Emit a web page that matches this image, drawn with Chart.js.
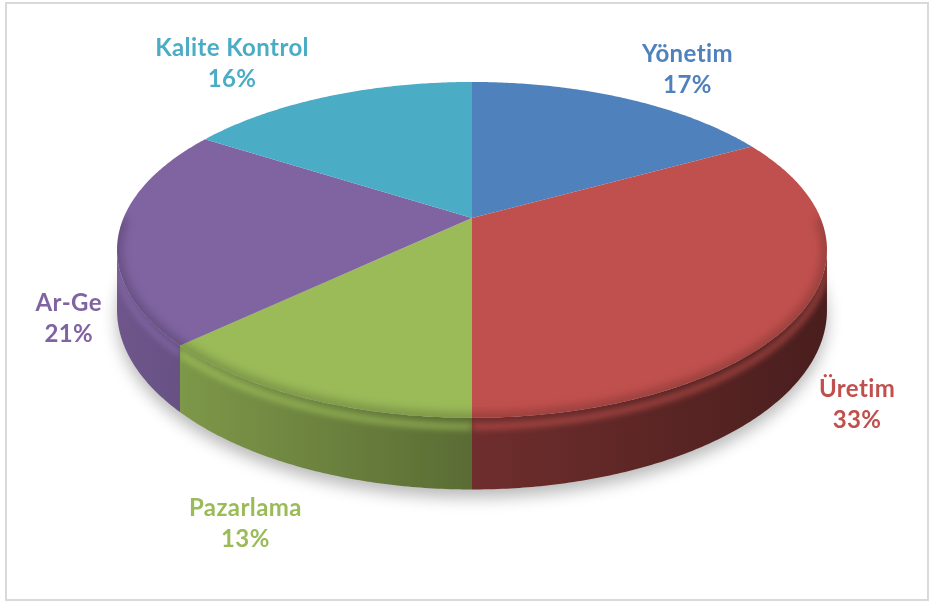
<!DOCTYPE html>
<html>
<head>
<meta charset="utf-8">
<script src="https://cdn.jsdelivr.net/npm/chart.js@4.4.1/dist/chart.umd.min.js"></script>
<style>
  html, body { margin: 0; padding: 0; background: #fff; }
  #wrap { position: relative; width: 932px; height: 603px; }
</style>
</head>
<body>
<div id="wrap"><canvas id="chart-pie" width="932" height="603"></canvas></div>
<script>
// data
const departments = ["Yönetim", "Üretim", "Pazarlama", "Ar-Ge", "Kalite Kontrol"];
const shares = [17, 33, 13, 21, 16];
const sliceColors = ["#4F81BD", "#C0504D", "#9BBB59", "#8064A2", "#4BACC6"];

// layout of the fake 3d disc
const cx = 472, cy = 218;      // apex of the slices
const A = 348.5, B = 161.9;    // horizontal / vertical radius
const g = 0.19;                // perspective
const depth = 58;
// label nudges from the rim point at the middle of each slice
const labelShift = [[63, -36], [53, 88], [-59, 118], [-50, 77], [-96, -40]];

const proj = (theta, dz) => {
  const u = Math.cos(theta), w = -Math.sin(theta);
  const den = 1 + g * w;
  return [cx + A * u / den, cy - B * w / den + (dz || 0) / den];
};

const shade = (hex, f) => {
  const n = parseInt(hex.slice(1), 16);
  const r = Math.min(255, Math.round(((n >> 16) & 255) * f)),
        gg = Math.min(255, Math.round(((n >> 8) & 255) * f)),
        b = Math.min(255, Math.round((n & 255) * f));
  return "rgb(" + r + "," + gg + "," + b + ")";
};

const rimPath = (ctx, a, b, dz, first) => {
  const steps = Math.max(2, Math.ceil(Math.abs(b - a) / 0.01));
  for (let i = 0; i <= steps; i++) {
    const p = proj(a + (b - a) * i / steps, dz);
    if (i == 0 && first) ctx.moveTo(p[0], p[1]); else ctx.lineTo(p[0], p[1]);
  }
};

const pie3d = {
  id: "pie3d",
  beforeDatasetsDraw(chart) {
    const ctx = chart.ctx;
    const arcs = chart.getDatasetMeta(0).data;
    const sideFrom = Math.asin(g), sideTo = Math.PI - Math.asin(g);

    // soft shadow below
    ctx.save();
    ctx.shadowColor = "rgba(0,0,0,0.28)";
    ctx.shadowBlur = 16;
    ctx.shadowOffsetY = 2000 + 8;
    ctx.translate(0, -2000);
    ctx.beginPath();
    rimPath(ctx, sideFrom - 0.3, sideTo + 0.3, depth, true);
    ctx.closePath();
    ctx.fillStyle = "#000";
    ctx.fill();
    ctx.restore();

    // sides
    arcs.forEach((arc, i) => {
      let a = Math.max(arc.startAngle, sideFrom), b = Math.min(arc.endAngle, sideTo);
      if (b <= a) return;
      const grad = ctx.createLinearGradient(cx - A * 1.02, 0, cx + A * 1.02, 0);
      grad.addColorStop(0, shade(sliceColors[i], 0.86));
      grad.addColorStop(0.5, shade(sliceColors[i], 0.58));
      grad.addColorStop(1, shade(sliceColors[i], 0.38));
      ctx.beginPath();
      rimPath(ctx, a, b, 0, true);
      rimPath(ctx, b, a, depth, false);
      ctx.closePath();
      ctx.fillStyle = grad;
      ctx.fill();

      // bevel highlight on the upper edge
      ctx.save();
      ctx.beginPath();
      rimPath(ctx, a, b, 0, true);
      rimPath(ctx, b, a, depth, false);
      ctx.closePath();
      ctx.clip();
      ctx.beginPath();
      rimPath(ctx, a, b, 7, true);
      ctx.strokeStyle = shade(sliceColors[i], 1.15);
      ctx.globalAlpha = 0.55;
      ctx.lineWidth = 6;
      ctx.filter = "blur(3px)";
      ctx.stroke();
      ctx.restore();
    });

    // top face
    arcs.forEach((arc, i) => {
      ctx.beginPath();
      ctx.moveTo(cx, cy);
      rimPath(ctx, arc.startAngle, arc.endAngle, 0, false);
      ctx.closePath();
      ctx.fillStyle = sliceColors[i];
      ctx.fill();
    });

    // inner darkening near the front rim
    ctx.save();
    ctx.beginPath();
    ctx.moveTo(cx, cy);
    rimPath(ctx, -Math.PI / 2, Math.PI * 1.5, 0, false);
    ctx.closePath();
    ctx.clip();
    ctx.beginPath();
    rimPath(ctx, 0, Math.PI, 0, true);
    ctx.strokeStyle = "rgba(0,0,0,0.22)";
    ctx.lineWidth = 10;
    ctx.filter = "blur(5px)";
    ctx.stroke();
    ctx.restore();

    // labels
    const total = shares.reduce((s, v) => s + v, 0);
    ctx.save();
    ctx.textAlign = "center";
    ctx.textBaseline = "alphabetic";
    ctx.font = "bold 24px Lato";
    ctx.letterSpacing = "0.4px";
    arcs.forEach((arc, i) => {
      const p = proj((arc.startAngle + arc.endAngle) / 2, 0);
      const x = p[0] + labelShift[i][0], y = p[1] + labelShift[i][1];
      ctx.fillStyle = sliceColors[i];
      ctx.fillText(departments[i], x, y);
      ctx.fillText(Math.round(shares[i] / total * 100) + "%", x, y + 31);
    });
    ctx.restore();
    return false;
  },
  afterDraw(chart) {
    const ctx = chart.ctx;
    ctx.save();
    ctx.strokeStyle = "#D9D9D9";
    ctx.lineWidth = 2;
    ctx.strokeRect(6, 3, 922, 597);
    ctx.restore();
  }
};

new Chart(document.getElementById("chart-pie"), {
  type: "pie",
  data: {
    labels: departments,
    datasets: [{
      data: shares,
      backgroundColor: sliceColors,
      borderWidth: 0
    }]
  },
  options: {
    responsive: false,
    animation: false,
    plugins: {
      legend: { display: false },
      tooltip: { enabled: false }
    }
  },
  plugins: [pie3d]
});
</script>
</body>
</html>
